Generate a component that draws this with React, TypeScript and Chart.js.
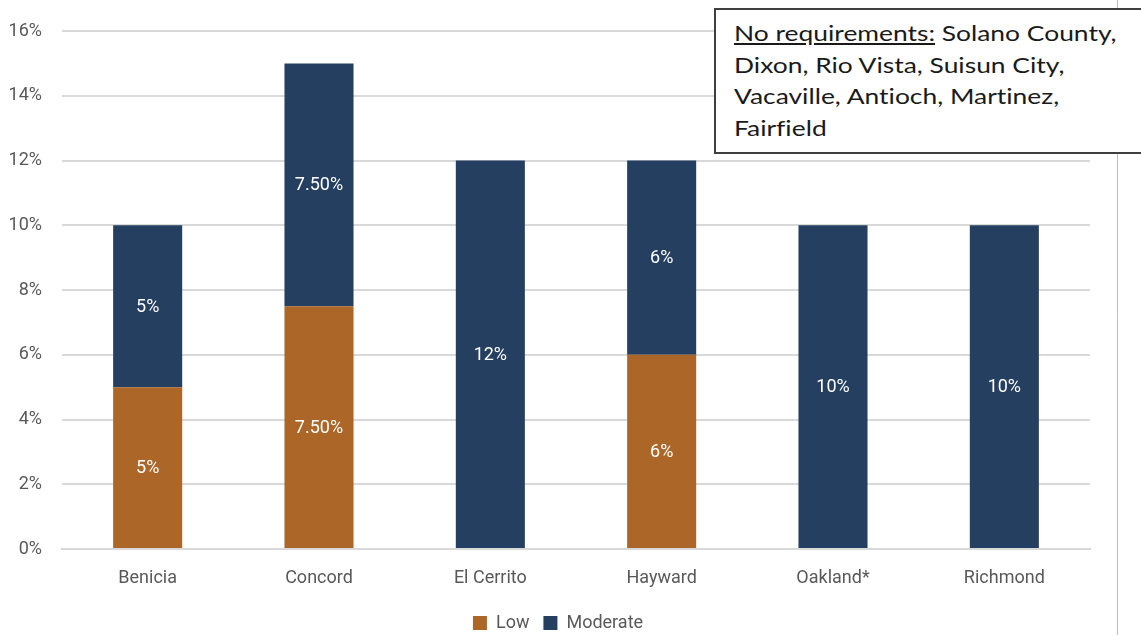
import React, { useEffect, useRef } from "react";
import { Chart, registerables } from "chart.js";

Chart.register(...registerables);

const cities = ["Benicia", "Concord", "El Cerrito", "Hayward", "Oakland*", "Richmond"];
const lowShare = [5, 7.5, 0, 6, 0, 0];
const moderateShare = [5, 7.5, 12, 6, 10, 10];
const lowLabels = ["5%", "7.50%", "", "6%", "", ""];
const moderateLabels = ["5%", "7.50%", "12%", "6%", "10%", "10%"];
const yTicks = [0, 2, 4, 6, 8, 10, 12, 14, 16];

const LOW_COLOR = "#AB6628";
const MODERATE_COLOR = "#243F60";
const AXIS_FONT = "Roboto, 'Liberation Sans', sans-serif";

// White value labels centred in each stacked segment
const segmentLabels = {
  id: "segmentLabels",
  afterDatasetsDraw(chart: any) {
    const ctx = chart.ctx;
    const texts = [lowLabels, moderateLabels];
    ctx.save();
    ctx.fillStyle = "#ffffff";
    ctx.font = `18px ${AXIS_FONT}`;
    ctx.textAlign = "center";
    ctx.textBaseline = "middle";
    chart.data.datasets.forEach((_ds: any, di: number) => {
      const meta = chart.getDatasetMeta(di);
      meta.data.forEach((bar: any, i: number) => {
        const t = texts[di][i];
        if (!t) return;
        const mid = (bar.y + bar.base) / 2;
        ctx.fillText(t, bar.x, mid + 1);
      });
    });
    ctx.restore();
  },
};

// Move the legend slightly lower and to the right
const legendNudge = {
  id: "legendNudge",
  afterLayout(chart: any) {
    if (chart.legend) {
      chart.legend.top += 7;
      chart.legend.bottom += 7;
      chart.legend.left += 13;
      chart.legend.right += 13;
    }
  },
};

// Thin frame line on the right-hand side
const frameLine = {
  id: "frameLine",
  afterDraw(chart: any) {
    const ctx = chart.ctx;
    ctx.save();
    ctx.strokeStyle = "#bfbfbf";
    ctx.lineWidth = 1;
    ctx.beginPath();
    ctx.moveTo(1117.5, 0);
    ctx.lineTo(1117.5, chart.height);
    ctx.stroke();
    ctx.restore();
  },
};

export default function App() {
  const canvasRef = useRef<HTMLCanvasElement | null>(null);

  useEffect(() => {
    if (!canvasRef.current) return;
    const chart = new Chart(canvasRef.current, {
      type: "bar",
      data: {
        labels: cities,
        datasets: [
          {
            label: "Low",
            data: lowShare,
            backgroundColor: LOW_COLOR,
            categoryPercentage: 1,
            barPercentage: 0.403,
          },
          {
            label: "Moderate",
            data: moderateShare,
            backgroundColor: MODERATE_COLOR,
            categoryPercentage: 1,
            barPercentage: 0.403,
          },
        ],
      },
      options: {
        animation: false,
        responsive: false,
        layout: { padding: { top: 31, right: 51, left: 0, bottom: 0 } },
        plugins: {
          legend: {
            position: "bottom",
            labels: {
              boxWidth: 14,
              boxHeight: 14,
              color: "#595959",
              font: { size: 18, family: AXIS_FONT },
              padding: 14,
            },
          },
          tooltip: { enabled: false },
        },
        scales: {
          x: {
            stacked: true,
            grid: { display: false },
            border: { color: "#d9d9d9", width: 2 },
            ticks: {
              color: "#595959",
              font: { size: 18, family: AXIS_FONT },
              padding: 11,
            },
            afterFit(scale: any) {
              scale.height = 44;
            },
          },
          y: {
            stacked: true,
            min: 0,
            max: 16,
            afterBuildTicks(scale: any) {
              scale.ticks = yTicks.map((v) => ({ value: v }));
            },
            grid: { color: "#d9d9d9", lineWidth: 2, drawTicks: false },
            border: { display: false },
            ticks: {
              color: "#595959",
              font: { size: 18, family: AXIS_FONT },
              padding: 20,
              callback: (v: any) => `${v}%`,
            },
            afterFit(scale: any) {
              scale.width = 62;
            },
          },
        },
      },
      plugins: [segmentLabels, legendNudge, frameLine],
    });
    return () => chart.destroy();
  }, []);

  return (
    <div style={{ position: "absolute", left: 0, top: 0, width: 1141, height: 635, background: "#fff", overflow: "hidden" }}>
      <canvas ref={canvasRef} width={1141} height={635} style={{ display: "block" }} />
      <div
        style={{
          position: "absolute",
          left: 714,
          top: 8,
          width: 440,
          height: 146,
          boxSizing: "border-box",
          border: "2px solid #3f3f3f",
          background: "#fff",
          padding: "7px 0 0 18px",
        }}
      >
        <div
          style={{
            fontFamily: "Lato, 'Open Sans', sans-serif",
            fontSize: 22,
            lineHeight: "31.5px",
            color: "#1a1a1a",
            whiteSpace: "nowrap",
            fontVariantLigatures: "none",
            transform: "scaleX(1.2)",
            transformOrigin: "left top",
          }}
        >
          <span style={{ textDecoration: "underline" }}>No requirements:</span> Solano County,
          <br />
          Dixon, Rio Vista, Suisun City,
          <br />
          Vacaville, Antioch, Martinez,
          <br />
          Fairfield
        </div>
      </div>
    </div>
  );
}
